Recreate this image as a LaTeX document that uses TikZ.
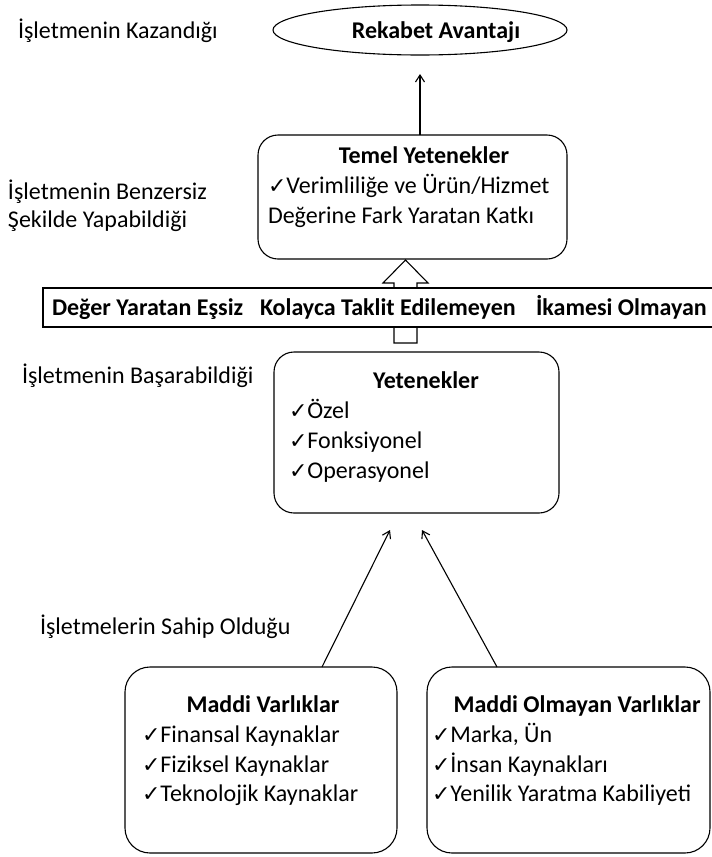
\documentclass[tikz,border=0pt]{standalone}
\usepackage{fontspec}
\setmainfont{Carlito}
\newfontfamily\symfont{DejaVu Sans}
\usetikzlibrary{shapes.geometric,arrows.meta,calc}
\newcommand\chk{{\symfont\fontsize{22}{22}\selectfont ✓}}

\begin{document}
\begin{tikzpicture}[x=1pt,y=-1pt,
  every node/.style={font=\fontsize{24}{30}\selectfont, inner sep=0pt, outer sep=0pt},
  box/.style={draw, line width=1.1pt, rounded corners=#1},
  box/.default=20pt,
  lbl/.style={anchor=base west},
  ttl/.style={font=\fontsize{24}{30}\selectfont\bfseries, anchor=base},
  item/.style={anchor=base west},
  arr/.style={-{Straight Barb[length=7pt,width=9pt]}, line width=1.1pt}
]
\useasboundingbox (0,0) rectangle (712,857);

% left-hand captions
\node[lbl] (c1) at (18,38) {İşletmenin Kazandığı};
\node[lbl] (c2) at (8,199) {İşletmenin Benzersiz};
\node[lbl] (c3) at (8,227) {Şekilde Yapabildiği};
\node[lbl] (c4) at (22,383) {İşletmenin Başarabildiği};
\node[lbl] (c5) at (40,634) {İşletmelerin Sahip Olduğu};

% competitive advantage
\node[draw, ellipse, line width=1.1pt, minimum width=294pt, minimum height=50pt] (rek) at (420,30) {};
\node[ttl] (rekt) at (436,38) {Rekabet Avantajı};
\coordinate (rektip) at (420,74);

% core competencies
\node[box, minimum width=309pt, minimum height=124pt] (temel) at (412.5,197) {};
\node[ttl] (temelt) at (424,163) {Temel Yetenekler};
\node[item] (temel1) at (268,193) {\chk Verimliliğe ve Ürün/Hizmet};
\node[item] (temel2) at (268,223) {Değerine Fark Yaratan Katkı};

\draw[arr] (temel.north -| rek.center) -- (rektip);

% hollow block arrow, passing behind the criteria banner
\coordinate (tip) at (405.5,260);
\draw[line width=1.1pt, fill=white] (tip) -- ++(22.5,23) -- ++(-11,0) -- ++(0,60)
  -- ++(-23,0) -- ++(0,-60) -- ++(-11,0) -- cycle;

% criteria banner
\node[draw, line width=1.1pt, fill=white, anchor=west, minimum width=673pt, minimum height=39pt] (banner) at (43,307.5) {};
\node[ttl, anchor=base west] (k1) at (52,315) {Değer Yaratan Eşsiz};
\node[ttl, anchor=base west] (k2) at (260,315) {Kolayca Taklit Edilemeyen};
\node[ttl, anchor=base west] (k3) at (536,315) {İkamesi Olmayan};

% capabilities
\node[box, minimum width=285pt, minimum height=161pt] (yet) at (416.5,432.5) {};
\node[ttl] (yett) at (426,388) {Yetenekler};
\node[item] (yet1) at (289,418) {\chk Özel};
\node[item] (yet2) at (289,448) {\chk Fonksiyonel};
\node[item] (yet3) at (289,478) {\chk Operasyonel};

% tangible assets
\node[box=25pt, minimum width=272pt, minimum height=186pt] (mv) at (261,760) {};
\node[ttl] (mvt) at (263,712) {Maddi Varlıklar};
\node[item] (mv1) at (142,742) {\chk Finansal Kaynaklar};
\node[item] (mv2) at (142,772) {\chk Fiziksel Kaynaklar};
\node[item] (mv3) at (142,801) {\chk Teknolojik Kaynaklar};

% intangible assets
\node[box=25pt, minimum width=283pt, minimum height=186pt] (mo) at (568.5,760) {};
\node[ttl] (mot) at (577,712) {Maddi Olmayan Varlıklar};
\node[item] (mo1) at (432,742) {\chk Marka, Ün};
\node[item] (mo2) at (432,772) {\chk İnsan Kaynakları};
\node[item] (mo3) at (432,801) {\chk Yenilik Yaratma Kabiliyeti};

% assets feed capabilities
\coordinate (yt1) at (390,530);
\coordinate (yt2) at (422,530);
\draw[arr] ([xshift=61pt]mv.north) -- (yt1);
\draw[arr] ([xshift=-71.5pt]mo.north) -- (yt2);
\end{tikzpicture}
\end{document}
